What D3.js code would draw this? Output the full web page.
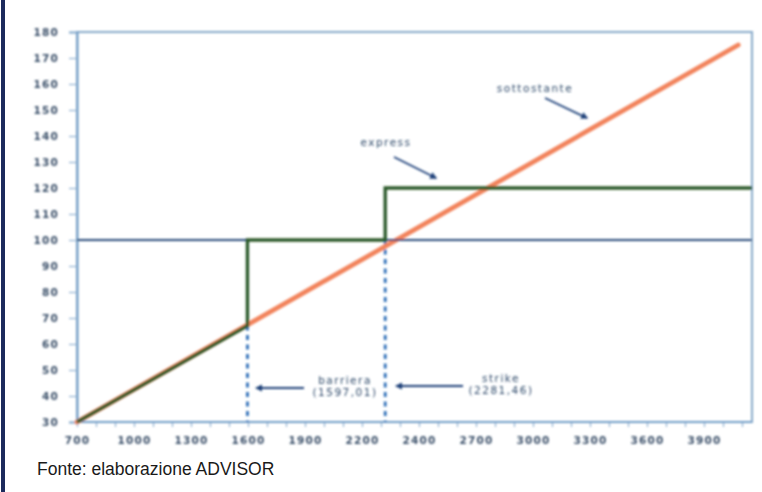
<!DOCTYPE html>
<html>
<head>
<meta charset="utf-8">
<script src="https://cdnjs.cloudflare.com/ajax/libs/d3/7.8.5/d3.min.js"></script>
<style>
  html, body { margin: 0; padding: 0; background: #fff; }
  svg { display: block; }
</style>
</head>
<body>
<script>
// Category labels along the horizontal axis (index level)
const xTickLabels = ["700", "1000", "1300", "1600", "1900", "2200", "2400", "2700", "3000", "3300", "3600", "3900"];
const xTickValues = [700, 1000, 1300, 1600, 1900, 2200, 2400, 2700, 3000, 3300, 3600, 3900];
const yTickValues = [30, 40, 50, 60, 70, 80, 90, 100, 110, 120, 130, 140, 150, 160, 170, 180];

// Underlying (sottostante) path, % of strike
const underlyingX = [700, 4080];
const underlyingY = [30, 175];

// Express certificate payoff
const expressX = [700, 1597.01, 1597.01, 2281.46, 2281.46, 4153];
const expressY = [30, 67, 100, 100, 120, 120];

// Key levels
const barrierLevel = 1597.01;
const strikeLevel = 2281.46;
const capitalLevel = 100;
const xMax = 4153;

const W = 762, H = 492;
const plotL = 77, plotR = 752, plotT = 32, plotB = 422;
const slot = (704 - plotL) / (xTickValues.length - 1);

const svg = d3.select("body").append("svg").attr("width", W).attr("height", H);

const defs = svg.append("defs");
defs.append("filter").attr("id", "soft")
  .attr("x", "-5%").attr("y", "-5%").attr("width", "110%").attr("height", "110%")
  .append("feGaussianBlur").attr("stdDeviation", 0.95);
defs.append("marker").attr("id", "arrow")
  .attr("viewBox", "0 0 10 10").attr("refX", 8).attr("refY", 5)
  .attr("markerWidth", 4).attr("markerHeight", 4).attr("orient", "auto")
  .append("path").attr("d", "M0,0 L10,5 L0,10 z").attr("fill", "#1f3f78");

// left page rule
svg.append("rect").attr("x", 1).attr("y", 0).attr("width", 4).attr("height", H).attr("fill", "#1c2a5c");

// Category-style axis: labels evenly spaced
const x = d3.scaleLinear()
  .domain(xTickValues)
  .range(xTickValues.map((d, i) => plotL + i * slot));
const y = d3.scaleLinear().domain([30, 180]).range([plotB, plotT]);

const g = svg.append("g").attr("filter", "url(#soft)");

// plot frame
g.append("rect").attr("x", plotL).attr("y", plotT).attr("width", plotR - plotL).attr("height", plotB - plotT)
  .attr("fill", "none").attr("stroke", "#86a9c9").attr("stroke-width", 2);

const tickFont = sel => sel.attr("fill", "#3b5069").attr("font-family", "DejaVu Sans")
  .attr("font-weight", "bold").attr("font-size", 10.5).attr("letter-spacing", 1.2);

// y axis
const yAxis = g.append("g").attr("transform", `translate(${plotL},0)`)
  .call(d3.axisLeft(y).tickValues(yTickValues).tickSize(8).tickPadding(10).tickFormat(d3.format("d")));
yAxis.select(".domain").attr("stroke", "#6f9cc6").attr("stroke-width", 2);
yAxis.selectAll(".tick line").attr("stroke", "#8fb0cf").attr("stroke-width", 1.2);
yAxis.selectAll("text").call(tickFont);

// x axis with minor ticks between labelled categories
const minor = [];
for (let i = 0; i < xTickValues.length - 1; i++) {
  const a = xTickValues[i], b = xTickValues[i + 1];
  minor.push(a + (b - a) / 3, a + 2 * (b - a) / 3);
}
minor.push(4000, 4100);
const xAxisMinor = g.append("g").attr("transform", `translate(0,${plotB})`)
  .call(d3.axisBottom(x).tickValues(minor).tickSize(5).tickFormat(""));
xAxisMinor.select(".domain").remove();
xAxisMinor.selectAll(".tick line").attr("stroke", "#8fb0cf").attr("stroke-width", 1.2);

const xAxis = g.append("g").attr("transform", `translate(0,${plotB})`)
  .call(d3.axisBottom(x).tickValues(xTickValues).tickSize(5).tickPadding(10)
    .tickFormat((d, i) => xTickLabels[i]));
xAxis.select(".domain").remove();
xAxis.selectAll(".tick line").attr("stroke", "#8fb0cf").attr("stroke-width", 1.2);
xAxis.selectAll("text").call(tickFont);
g.append("line").attr("x1", plotL).attr("x2", plotR).attr("y1", plotB).attr("y2", plotB)
  .attr("stroke", "#6f9cc6").attr("stroke-width", 2);

// barrier and strike verticals
[barrierLevel, strikeLevel].forEach(v => {
  g.append("line").attr("x1", x(v)).attr("x2", x(v)).attr("y1", y(capitalLevel)).attr("y2", y(30))
    .attr("stroke", "#2f6fb8").attr("stroke-width", 2.8).attr("stroke-dasharray", "5,4.5");
});

// underlying line
const line = d3.line().x(d => x(d[0])).y(d => y(d[1]));
g.append("path").datum(underlyingX.map((v, i) => [v, underlyingY[i]]))
  .attr("d", line).attr("fill", "none").attr("stroke", "#f2835b").attr("stroke-width", 4.8)
  .attr("stroke-linecap", "round");

// capital protection level
g.append("line").attr("x1", plotL).attr("x2", plotR).attr("y1", y(capitalLevel)).attr("y2", y(capitalLevel))
  .attr("stroke", "#284879").attr("stroke-width", 2.2);

// express payoff
g.append("path").datum(expressX.map((v, i) => [Math.min(v, xMax), expressY[i]]))
  .attr("d", line).attr("fill", "none").attr("stroke", "#2c5a2a").attr("stroke-width", 3.4)
  .attr("stroke-linejoin", "miter");

// annotations
function label(lines, cx, by) {
  lines.forEach((t, i) => {
    g.append("text").attr("x", cx).attr("y", by + i * 12).attr("text-anchor", "middle")
      .attr("fill", "#2f4a6a").attr("font-family", "DejaVu Sans").attr("font-size", 10.5)
      .attr("letter-spacing", 1.5).text(t);
  });
}
function arrow(x1, y1, x2, y2) {
  g.append("line").attr("x1", x1).attr("y1", y1).attr("x2", x2).attr("y2", y2)
    .attr("stroke", "#1f3f78").attr("stroke-width", 1.8).attr("marker-end", "url(#arrow)");
}
label(["sottostante"], 535, 92);
arrow(545, 98, 587, 118);
label(["express"], 386, 146);
arrow(394, 157, 436, 178);
label(["barriera", "(1597,01)"], 345, 384);
arrow(304, 388, x(barrierLevel) + 9, 388);
label(["strike", "(2281,46)"], 501, 382);
arrow(463, 386, x(strikeLevel) + 11, 386);

// source line
svg.append("text").attr("x", 37).attr("y", 475).attr("fill", "#1a1a1a")
  .attr("font-family", "Liberation Sans, Arial, sans-serif").attr("font-size", 17.5)
  .text("Fonte: elaborazione ADVISOR");
</script>
</body>
</html>
